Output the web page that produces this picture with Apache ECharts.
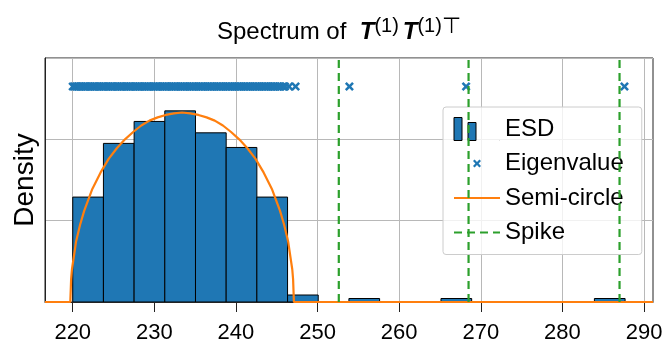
<!DOCTYPE html>
<html><head><meta charset="utf-8">
<script src="https://cdn.jsdelivr.net/npm/echarts@6/dist/echarts.min.js"></script>
<style>html,body{margin:0;padding:0;background:#fff}#c{width:665px;height:344px}</style>
</head><body><div id="c"></div>
<script>
// ---- data ----
const binEdges = [220.0, 223.76, 227.52, 231.28, 235.04, 238.8, 242.56, 246.32, 250.08, 253.84, 257.6, 261.36, 265.12, 268.88, 272.64, 276.4, 280.16, 283.92, 287.68];
const binHeights = [1.29, 1.95, 2.22, 2.35, 2.08, 1.90, 1.29, 0.086, 0, 0.043, 0, 0, 0.043, 0, 0, 0, 0, 0.043];
const eigenvalues = [220.0, 220.2, 220.4, 220.5, 220.7, 220.9, 221.1, 221.3, 221.5, 221.6, 221.8, 222.0, 222.2, 222.4, 222.6, 222.7, 222.9, 223.1, 223.3, 223.5, 223.7, 223.8, 224.0, 224.2, 224.4, 224.6, 224.8, 224.9, 225.1, 225.3, 225.5, 225.7, 225.9, 226.0, 226.2, 226.4, 226.6, 226.8, 227.0, 227.1, 227.3, 227.5, 227.7, 227.9, 228.1, 228.2, 228.4, 228.6, 228.8, 229.0, 229.2, 229.3, 229.5, 229.7, 229.9, 230.1, 230.3, 230.4, 230.6, 230.8, 231.0, 231.2, 231.4, 231.5, 231.7, 231.9, 232.1, 232.3, 232.5, 232.6, 232.8, 233.0, 233.2, 233.4, 233.6, 233.7, 233.9, 234.1, 234.3, 234.5, 234.7, 234.8, 235.0, 235.2, 235.4, 235.6, 235.8, 235.9, 236.1, 236.3, 236.5, 236.7, 236.9, 237.0, 237.2, 237.4, 237.6, 237.8, 238.0, 238.1, 238.3, 238.5, 238.7, 238.9, 239.1, 239.2, 239.4, 239.6, 239.8, 240.0, 240.2, 240.3, 240.5, 240.7, 240.9, 241.1, 241.3, 241.4, 241.6, 241.8, 242.0, 242.2, 242.4, 242.5, 242.7, 242.9, 243.1, 243.3, 243.5, 243.6, 243.8, 244.0, 244.2, 244.4, 244.6, 244.7, 244.9, 245.1, 245.3, 245.5, 245.8, 246.0, 246.5, 247.3, 253.9, 268.2, 287.6];
const eigenRowY = 2.65;
const semiX = [216.6, 219.7, 219.8, 219.9, 220.4, 220.9, 221.4, 222.4, 223.4, 224.4, 225.4, 226.4, 227.4, 228.4, 229.4, 230.4, 231.4, 232.4, 233.4, 234.4, 235.4, 236.4, 237.4, 238.4, 239.4, 240.4, 241.4, 242.4, 243.4, 244.4, 245.4, 245.9, 246.4, 246.9, 247.0, 247.1, 291.1];
const semiY = [0, 0, 0.28, 0.40, 0.74, 0.95, 1.12, 1.39, 1.59, 1.76, 1.89, 2.00, 2.09, 2.17, 2.23, 2.27, 2.30, 2.32, 2.33, 2.32, 2.30, 2.27, 2.23, 2.17, 2.09, 2.00, 1.89, 1.76, 1.59, 1.39, 1.12, 0.95, 0.74, 0.40, 0.28, 0, 0];
const spikes = [252.6, 268.5, 287.0];
const xTicks = [220, 230, 240, 250, 260, 270, 280, 290];
const xLimits = [216.6, 291.1];
const yLimits = [0, 3];

// ---- styling ----
const FONT = 'Liberation Sans';
const BLUE = '#1f77b4', ORANGE = '#ff7f0e', GREEN = '#2ca02c';
const X_MARK = 'path://M0,2 L2,0 L5,3 L8,0 L10,2 L7,5 L10,8 L8,10 L5,7 L2,10 L0,8 L3,5 Z';
const X_LEG = 'path://M0,0 L0.01,0 M46,23 L45.99,23 M19,9.1 L20.6,7.5 L23,9.9 L25.4,7.5 L27,9.1 L24.6,11.5 L27,13.9 L25.4,15.5 L23,13.1 L20.6,15.5 L19,13.9 L21.4,11.5 Z';
const ESD_LEG = 'path://M0,0 L8,0 L8,23 L0,23 Z M14,5 L22,5 L22,23 L14,23 Z M45.9,23 L46,23';

const chart = echarts.init(document.getElementById('c'), null, {renderer: 'canvas'});

const binData = binHeights.map((h, i) => [binEdges[i], binEdges[i + 1], h]);

const series = [
  {
    name: 'ESD', type: 'custom', z: 2, clip: true,
    data: binData,
    encode: {x: [0, 1], y: 2},
    itemStyle: {color: BLUE, borderColor: '#000', borderWidth: 1},
    renderItem: function (params, api) {
      const p0 = api.coord([api.value(0), api.value(2)]);
      const p1 = api.coord([api.value(1), 0]);
      return {
        type: 'rect',
        shape: {x: p0[0], y: p0[1], width: p1[0] - p0[0], height: p1[1] - p0[1]},
        style: {fill: BLUE, stroke: '#000', lineWidth: 1}
      };
    }
  },
  {
    name: 'Semi-circle', type: 'line', z: 3, symbol: 'none', smooth: false,
    data: semiX.map((x, i) => [x, semiY[i]]),
    lineStyle: {color: ORANGE, width: 2.2},
    itemStyle: {color: ORANGE}
  },
  {
    name: 'Eigenvalue', type: 'scatter', z: 4,
    symbol: X_MARK, symbolSize: 9,
    data: eigenvalues.map(v => [v, eigenRowY]),
    itemStyle: {color: BLUE, opacity: 1}
  }
];
spikes.forEach(s => {
  series.push({
    name: 'Spike', type: 'line', z: 5, symbol: 'none',
    data: [[s, yLimits[0]], [s, yLimits[1]]],
    lineStyle: {color: GREEN, width: 2.2, type: [8, 5]},
    itemStyle: {color: GREEN}
  });
});

chart.setOption({
  animation: false,
  backgroundColor: '#fff',
  title: {
    text: '{n|Spectrum of  }{b|T}{s|(1)}{sp| }{b|T}{s|(1)}{t|\u22A4}',
    left: 217, top: 16, padding: 0,
    textStyle: {
      fontFamily: FONT, fontSize: 24, color: '#000', fontWeight: 'normal',
      rich: {
        n: {fontFamily: FONT, fontSize: 24, color: '#000', lineHeight: 28, verticalAlign: 'bottom'},
        b: {fontFamily: FONT, fontSize: 24, color: '#000', fontWeight: 'bold', fontStyle: 'italic', lineHeight: 28, verticalAlign: 'bottom'},
        s: {fontFamily: FONT, fontSize: 20, color: '#000', lineHeight: 20, verticalAlign: 'top'},
        t: {fontFamily: FONT, fontSize: 22, color: '#000', lineHeight: 12, verticalAlign: 'top'},
        sp: {fontFamily: FONT, fontSize: 14, color: '#000', lineHeight: 28, verticalAlign: 'bottom'}
      }
    }
  },
  grid: {left: 45, right: 12, top: 58, bottom: 42, containLabel: false, outerBoundsMode: 'none',
         show: true, borderColor: '#222', borderWidth: 1, backgroundColor: 'transparent'},
  legend: {
    data: [
      {name: 'ESD', icon: ESD_LEG, itemStyle: {color: BLUE, borderColor: '#000', borderWidth: 1}},
      {name: 'Eigenvalue', icon: X_LEG},
      {name: 'Semi-circle', itemStyle: {opacity: 0}},
      {name: 'Spike', itemStyle: {opacity: 0}}
    ],
    orient: 'vertical', left: 443, top: 107,
    padding: [10, 18, 10, 10], itemGap: 10.5,
    itemWidth: 46, itemHeight: 23,
    backgroundColor: 'rgba(255,255,255,0.8)', borderColor: '#cccccc', borderWidth: 1, borderRadius: 3,
    textStyle: {fontFamily: FONT, fontSize: 24, color: '#000'},
    selectedMode: false
  },
  xAxis: {
    type: 'value', min: xLimits[0], max: xLimits[1],
    minInterval: 10, maxInterval: 10, splitNumber: 7,
    axisLine: {show: true, onZero: false, lineStyle: {color: '#222', width: 1}},
    axisTick: {show: true, length: 10, customValues: xTicks, lineStyle: {color: '#222', width: 1}},
    axisLabel: {show: true, customValues: xTicks, fontFamily: FONT, fontSize: 22, color: '#000', margin: 20},
    splitLine: {show: true, lineStyle: {color: '#b8b8b8', width: 1}}
  },
  yAxis: {
    type: 'value', min: yLimits[0], max: yLimits[1], interval: 1,
    name: 'Density', nameLocation: 'middle', nameGap: 6, nameRotate: 90,
    nameTextStyle: {fontFamily: FONT, fontSize: 28, color: '#000'},
    axisLine: {show: true, lineStyle: {color: '#222', width: 1}},
    axisTick: {show: false},
    axisLabel: {show: false},
    splitLine: {show: true, lineStyle: {color: '#b8b8b8', width: 1}}
  },
  series: series
});
</script>
</body></html>
